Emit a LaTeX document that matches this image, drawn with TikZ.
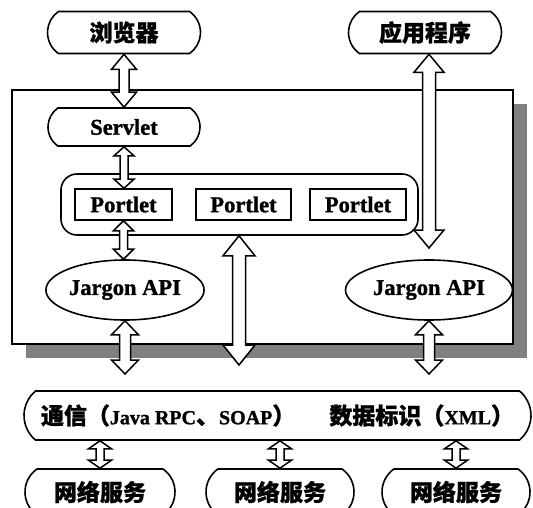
\documentclass[tikz,border=0pt]{standalone}
\usepackage{fontspec}
\setmainfont{Liberation Serif}[BoldFeatures={FakeBold=1.2}]
\newfontfamily\cjk{Noto Sans CJK SC}[BoldFeatures={FakeBold=1}]
\newcommand\zh[1]{{\cjk\fontsize{23}{25}\selectfont #1}}
\usetikzlibrary{shapes.misc,shapes.geometric,calc}
\tikzset{
  txt/.style={font=\bfseries\fontsize{22.5}{24}\selectfont},
  pill/.style={rounded rectangle, rounded rectangle arc length=110, draw, line width=1.6pt,
    fill=white, inner sep=0pt, minimum width=#1, txt},
  portbox/.style={rectangle, draw, line width=1.6pt, fill=white, inner sep=0pt,
    minimum width=#1, minimum height=31pt, txt},
  api/.style={ellipse, draw, line width=1.6pt, fill=white, inner sep=0pt,
    minimum width=#1, minimum height=60pt, txt},
  arrowline/.style={draw, line width=1.5pt, fill=white, line join=miter},
}
\newcommand\dblarrow[5]{%
  \path[arrowline] let \p1=#1, \p2=#2 in
    (\x1,\y1) -- ({\x1+#4pt},{\y1-#3pt}) -- ({\x1+#5pt},{\y1-#3pt})
    -- ({\x1+#5pt},{\y2+#3pt}) -- ({\x1+#4pt},{\y2+#3pt}) -- (\x1,\y2)
    -- ({\x1-#4pt},{\y2+#3pt}) -- ({\x1-#5pt},{\y2+#3pt})
    -- ({\x1-#5pt},{\y1-#3pt}) -- ({\x1-#4pt},{\y1-#3pt}) -- cycle;}
\begin{document}
\begin{tikzpicture}[x=1pt,y=-1pt]
\useasboundingbox (0,0) rectangle (533,508);
% frame with shadow
\node[rectangle, fill=black!50, minimum width=501pt, minimum height=254pt, inner sep=0pt] (shadow) at (276.5,231) {};
\node[rectangle, draw, line width=2.4pt, fill=white, minimum width=501pt, minimum height=254pt, inner sep=0pt] (frame) at (262.5,217) {};
% nodes
\node[pill=153pt, minimum height=42pt] (browser) at (124,32.5) {\zh{浏览器}};
\node[pill=153pt, minimum height=42pt] (app) at (425,32.5) {\zh{应用程序}};
\node[pill=152pt, minimum height=38pt] (servlet) at (124,127) {Servlet};
\node[rectangle, rounded corners=16pt, draw, line width=1.6pt, fill=white,
      minimum width=357pt, minimum height=61pt] (group) at (239.5,204.5) {};
\node[portbox=97pt] (p1) at (123.5,204.5) {Portlet};
\node[portbox=95pt] (p2) at (243.5,204.5) {Portlet};
\node[portbox=96pt] (p3) at (358,204.5) {Portlet};
\node[api=155pt] (jl) at (125,290) {Jargon API};
\node[api=167pt] (jr) at (429,290) {Jargon API};
\node[pill=507pt, minimum height=49pt, rounded rectangle arc length=100,
      font=\bfseries\fontsize{20}{22}\selectfont] (bus) at (277.5,415.5)
  {\zh{通信（}Java RPC\zh{、}SOAP\zh{）}\hspace{34pt}\zh{数据标识（}XML\zh{）}};
\node[pill=150pt, minimum height=46pt] (s1) at (100,492) {\zh{网络服务}};
\node[pill=148pt, minimum height=46pt] (s2) at (280,492) {\zh{网络服务}};
\node[pill=148pt, minimum height=46pt] (s3) at (456,492) {\zh{网络服务}};
% free ends
\coordinate (appEnd) at (429,248);
\coordinate (midEnd) at (239,365);
\coordinate (jlEnd) at (125,374);
\coordinate (jrEnd) at (429,374);
% arrows
\dblarrow{(browser.south)}{(servlet.north)}{15}{12.5}{5}
\dblarrow{(servlet.south)}{(p1.north)}{9}{10}{4}
\dblarrow{(p1.south)}{(jl.north)}{10}{10}{4}
\dblarrow{(app.south -| appEnd)}{(appEnd)}{18}{15}{6.5}
\dblarrow{(group.south -| midEnd)}{(midEnd)}{20}{16}{6.5}
\dblarrow{(jl.south)}{(jlEnd)}{14}{13.5}{5.5}
\dblarrow{(jr.south)}{(jrEnd)}{14}{13.5}{5.5}
\dblarrow{(bus.south -| s1.north)}{(s1.north)}{8}{11.5}{4}
\dblarrow{(bus.south -| s2.north)}{(s2.north)}{8}{11.5}{4}
\dblarrow{(bus.south -| s3.north)}{(s3.north)}{8}{11.5}{4}
\end{tikzpicture}
\end{document}
